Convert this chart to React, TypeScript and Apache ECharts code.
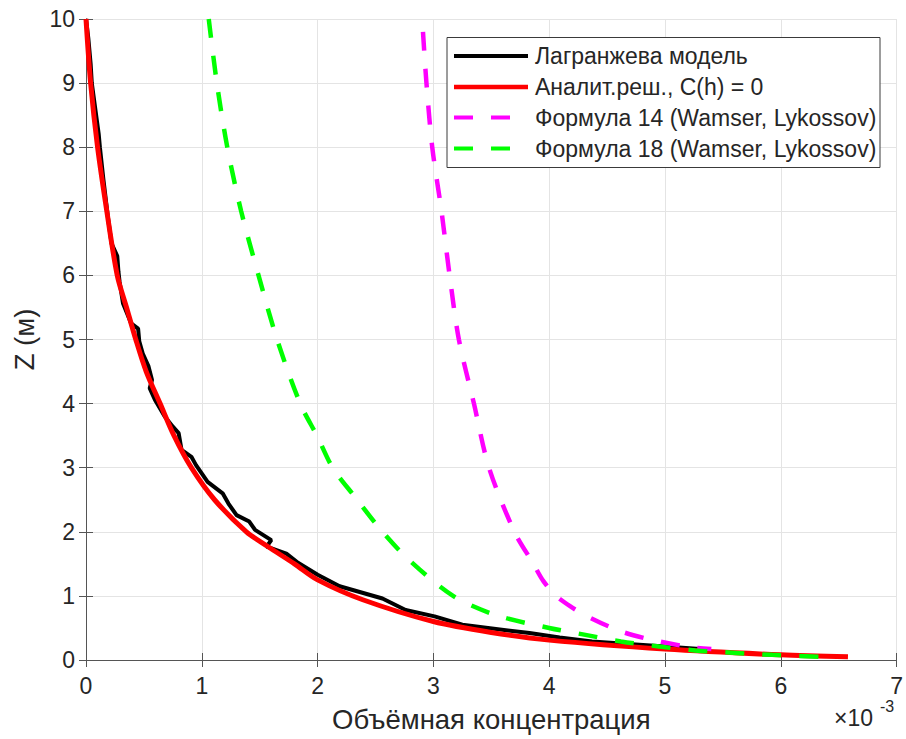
import React, { useEffect, useRef } from "react";
import * as echarts from "echarts";

// Concentration values are in units of 1e-3 (axis multiplier ×10^-3); Z in metres.
const lagrangeX = [0.0, 0.02, 0.04, 0.05, 0.08, 0.11, 0.12, 0.15, 0.17, 0.19, 0.22, 0.27, 0.28, 0.29, 0.32, 0.39, 0.45, 0.46, 0.49, 0.54, 0.57, 0.55, 0.595, 0.68, 0.75, 0.80, 0.825, 0.91, 0.95, 1.05, 1.18, 1.23, 1.30, 1.41, 1.46, 1.60, 1.56, 1.73, 1.82, 2.0, 2.19, 2.56, 2.76, 3.01, 3.25, 3.83, 4.09, 4.37, 5.0, 5.3];
const lagrangeZ = [10.0, 9.7, 9.3, 9.0, 8.6, 8.2, 8.0, 7.5, 7.2, 6.9, 6.5, 6.3, 6.06, 5.9, 5.56, 5.25, 5.17, 4.97, 4.78, 4.58, 4.37, 4.24, 4.06, 3.8, 3.64, 3.54, 3.28, 3.17, 3.04, 2.78, 2.60, 2.44, 2.26, 2.16, 2.03, 1.87, 1.77, 1.66, 1.53, 1.33, 1.15, 0.96, 0.78, 0.68, 0.55, 0.42, 0.35, 0.29, 0.21, 0.17];

const analyticX = [0.0, 0.04, 0.10, 0.18, 0.27, 0.35, 0.43, 0.52, 0.64, 0.76, 0.91, 1.11, 1.385, 1.57, 1.8, 2.0, 2.39, 3.0, 3.5, 4.0, 5.0, 6.0, 6.58];
const analyticZ = [10.0, 9.0, 8.0, 7.0, 6.0, 5.5, 5.0, 4.5, 4.0, 3.5, 3.0, 2.5, 2.0, 1.77, 1.5, 1.25, 0.94, 0.60, 0.43, 0.31, 0.17, 0.08, 0.05];

const formula14X = [2.91, 2.94, 2.99, 3.07, 3.14, 3.22, 3.35, 3.48, 3.70, 3.86, 3.95, 4.06, 4.18, 4.33, 4.63, 4.95, 5.26, 5.4];
const formula14Z = [9.8, 9.0, 8.0, 7.0, 6.0, 5.0, 4.0, 3.0, 2.0, 1.51, 1.23, 1.0, 0.84, 0.68, 0.44, 0.29, 0.19, 0.17];

const formula18X = [1.06, 1.13, 1.22, 1.34, 1.49, 1.65, 1.85, 2.0, 2.13, 2.32, 2.56, 2.79, 3.17, 3.54, 4.0, 4.29, 4.62, 4.95, 5.26, 5.61, 5.93, 6.36];
const formula18Z = [10.0, 9.0, 8.0, 7.0, 6.0, 5.0, 4.0, 3.48, 3.0, 2.55, 2.0, 1.56, 1.0, 0.70, 0.50, 0.40, 0.29, 0.21, 0.15, 0.11, 0.08, 0.05];

const seriesNames = [
  "Лагранжева модель",
  "Аналит.реш., C(h) = 0",
  "Формула 14 (Wamser, Lykossov)",
  "Формула 18 (Wamser, Lykossov)",
];
const seriesColors = ["#000000", "#ff0000", "#ff00ff", "#00ff00"];
const xTicks = { min: 0, max: 7, interval: 1 };
const yTicks = { min: 0, max: 10, interval: 1 };
const xAxisTitle = "Объёмная концентрация";
const yAxisTitle = "Z (м)";
const xMultiplierBase = "×10";
const xMultiplierExp = "-3";

const zip = (xs: number[], zs: number[]) => xs.map((x, i) => [x, zs[i]]);

const FONT = "'Liberation Sans', Arial, sans-serif";
const TEXT = "#262626";
const AXIS = "#555555";
const GRID = "#e4e4e4";
const DASH = [19, 18];
const lineWidths = [4, 5, 4.5, 4.5];
const lineDashes: (number[] | null)[] = [null, null, DASH, DASH];

export default function App() {
  const ref = useRef<HTMLDivElement>(null);
  useEffect(() => {
    if (!ref.current) return;
    const chart = echarts.init(ref.current, undefined, { renderer: "svg" });
    const boxAxis = {
      axisLine: { show: true, lineStyle: { color: AXIS, width: 1 } },
      axisTick: { show: true, inside: true, length: 7, lineStyle: { color: AXIS } },
      axisLabel: { show: false },
      splitLine: { show: false },
    };

    // custom legend (box, line samples, labels)
    const legendLeft = 447;
    const legendTop = 37.5;
    const rowY = [56, 87, 117.5, 148.5];
    const legendGraphics: any[] = [
      {
        type: "rect",
        shape: { x: legendLeft, y: legendTop, width: 433, height: 130 },
        style: { fill: "#ffffff", stroke: "#3a3a3a", lineWidth: 1 },
        z: 100,
      },
    ];
    seriesNames.forEach((name, i) => {
      legendGraphics.push({
        type: "line",
        shape: { x1: 454, y1: rowY[i], x2: 528, y2: rowY[i] },
        style: {
          stroke: seriesColors[i],
          lineWidth: lineWidths[i] === 5 ? 4.5 : 4,
          lineDash: lineDashes[i] || undefined,
        },
        z: 101,
      });
      legendGraphics.push({
        type: "text",
        x: 535,
        y: rowY[i],
        style: {
          text: name,
          font: `23px ${FONT}`,
          fill: TEXT,
          textVerticalAlign: "middle",
        },
        z: 101,
      });
    });

    chart.setOption({
      animation: false,
      backgroundColor: "#ffffff",
      textStyle: { fontFamily: FONT, color: TEXT },
      grid: { left: 86, right: 8, top: 19, bottom: 79 },
      xAxis: [
        {
          type: "value",
          position: "bottom",
          ...xTicks,
          name: xAxisTitle,
          nameLocation: "middle",
          nameGap: 45,
          nameTextStyle: { fontSize: 27.5, color: TEXT, fontFamily: FONT },
          axisLine: { show: true, onZero: false, lineStyle: { color: AXIS, width: 1 } },
          axisTick: { show: true, inside: true, length: 7, lineStyle: { color: AXIS } },
          axisLabel: { fontSize: 23, color: TEXT, margin: 14, fontFamily: FONT },
          splitLine: { show: true, lineStyle: { color: GRID, width: 1 } },
        },
        { type: "value", position: "top", ...xTicks, ...boxAxis },
      ],
      yAxis: [
        {
          type: "value",
          position: "left",
          ...yTicks,
          name: yAxisTitle,
          nameLocation: "middle",
          nameGap: 45,
          nameRotate: 90,
          nameTextStyle: { fontSize: 27.5, color: TEXT, fontFamily: FONT },
          axisLine: { show: true, onZero: false, lineStyle: { color: AXIS, width: 1 } },
          axisTick: { show: true, inside: true, length: 7, lineStyle: { color: AXIS } },
          axisLabel: { fontSize: 23, color: TEXT, margin: 11, fontFamily: FONT },
          splitLine: { show: true, lineStyle: { color: GRID, width: 1 } },
        },
        { type: "value", position: "right", ...yTicks, ...boxAxis },
      ],
      series: [
        { x: lagrangeX, z: lagrangeZ, smooth: false },
        { x: analyticX, z: analyticZ, smooth: 0.3 },
        { x: formula14X, z: formula14Z, smooth: 0.3 },
        { x: formula18X, z: formula18Z, smooth: 0.3 },
      ].map((s, i) => ({
        name: seriesNames[i],
        type: "line",
        data: zip(s.x, s.z),
        showSymbol: false,
        symbol: "none",
        smooth: s.smooth,
        lineStyle: {
          color: seriesColors[i],
          width: lineWidths[i],
          type: lineDashes[i] || "solid",
        },
        itemStyle: { color: seriesColors[i] },
      })),
      graphic: [
        ...legendGraphics,
        {
          type: "text",
          x: 834,
          y: 706,
          style: { text: xMultiplierBase, font: `23px ${FONT}`, fill: TEXT, textVerticalAlign: "top" },
        },
        {
          type: "text",
          x: 880,
          y: 698,
          style: { text: xMultiplierExp, font: `16px ${FONT}`, fill: TEXT, textVerticalAlign: "top" },
        },
      ],
    });
    return () => chart.dispose();
  }, []);
  return (
    <div
      ref={ref}
      style={{ position: "fixed", left: 0, top: 0, width: 906, height: 739, background: "#fff" }}
    />
  );
}
